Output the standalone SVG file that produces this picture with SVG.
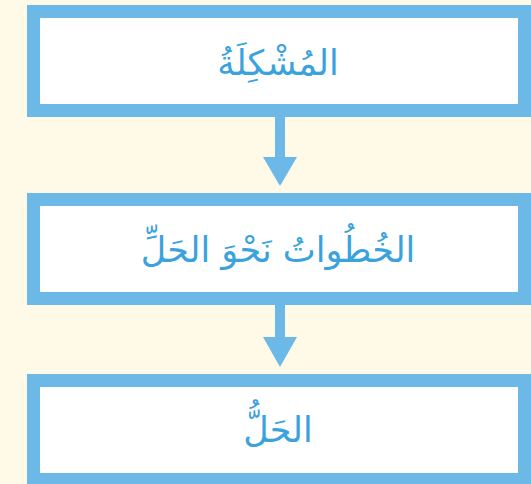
<svg xmlns="http://www.w3.org/2000/svg" width="531" height="484" viewBox="0 0 531 484">
<style>
.box{fill:#ffffff;stroke:#6cb9e7;stroke-width:13}
.lbl{font-family:"DejaVu Sans",sans-serif;font-size:35px;fill:#3aa2dc;text-anchor:middle}
.conn{stroke:#6cb9e7;stroke-width:10;fill:none}
.head{fill:#6cb9e7}
</style>
<rect width="531" height="484" fill="#fffae8"/>
<g id="connectors">
<line class="conn" x1="280" y1="117" x2="280" y2="160"/>
<polygon class="head" points="263,157 297,157 280,186"/>
<line class="conn" x1="280" y1="305" x2="280" y2="340"/>
<polygon class="head" points="263,337 297,337 280,367"/>
</g>
<g id="problem">
<rect class="box" x="33.5" y="11.5" width="491" height="99"/>
<text class="lbl" x="278" y="75" direction="rtl">المُشْكِلَةُ</text>
</g>
<g id="steps">
<rect class="box" x="33.5" y="199.5" width="491" height="99"/>
<text class="lbl" x="278" y="262" direction="rtl">الخُطُواتُ نَحْوَ الحَلِّ</text>
</g>
<g id="solution">
<rect class="box" x="33.5" y="380.5" width="491" height="99"/>
<text class="lbl" x="278" y="442" direction="rtl">الحَلُّ</text>
</g>
</svg>
